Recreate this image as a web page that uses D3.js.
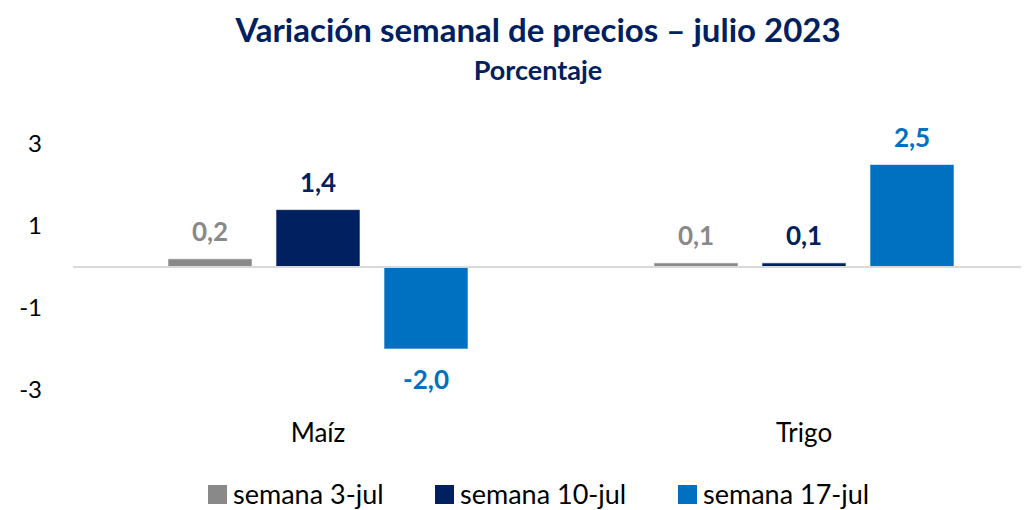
<!DOCTYPE html>
<html>
<head>
<meta charset="utf-8">
<script src="https://cdn.jsdelivr.net/npm/d3@7"></script>
<style>
  body { margin: 0; background: #fff; }
  svg { font-family: "Lato", "Open Sans", sans-serif; }
</style>
</head>
<body>
<svg id="chart" width="1024" height="510"></svg>
<script>
const categories = ["Maíz", "Trigo"];
const seriesNames = ["semana 3-jul", "semana 10-jul", "semana 17-jul"];
const values3jul = [0.2, 0.1];
const values10jul = [1.4, 0.1];
const values17jul = [-2.0, 2.5];
const yTicks = [3, 1, -1, -3];
const colors = ["#898989", "#002060", "#0070C0"];

const allSeries = [values3jul, values10jul, values17jul];
const rows = [];
categories.forEach((c, i) => {
  seriesNames.forEach((s, j) => rows.push({ cat: c, series: s, idx: j, value: allSeries[j][i] }));
});

const svg = d3.select("#chart");

// scales
const x0 = d3.scaleBand().domain(categories).range([75, 1047]).padding(0);
const x1 = d3.scaleBand().domain(seriesNames).range([0, x0.bandwidth()])
  .paddingInner(0.222).paddingOuter(0.861);
const y = d3.scaleLinear().domain([-3, 3]).range([390, 144]);

// hyphen instead of unicode minus, comma decimal
const fmt = v => d3.format(".1f")(v).replace(".", ",").replace("−", "-");

// title
svg.append("text").attr("x", 538).attr("y", 42).attr("text-anchor", "middle")
  .attr("fill", "#002060").attr("font-size", 33).attr("font-weight", "bold")
  .text("Variación semanal de precios – julio 2023");
svg.append("text").attr("x", 538).attr("y", 80).attr("text-anchor", "middle")
  .attr("fill", "#002060").attr("font-size", 27).attr("font-weight", "bold")
  .text("Porcentaje");

// y axis (labels only)
const yAxis = d3.axisLeft(y).tickValues(yTicks).tickSize(0).tickPadding(0)
  .tickFormat(d => String(d));
const gy = svg.append("g").attr("transform", "translate(42,0)").call(yAxis);
gy.select(".domain").remove();
gy.selectAll("text").attr("font-size", 24).attr("fill", "#000")
  .attr("font-family", "Lato, sans-serif");

// bars
svg.append("g").selectAll("rect").data(rows).join("rect")
  .attr("x", d => x0(d.cat) + x1(d.series))
  .attr("width", x1.bandwidth())
  .attr("y", d => y(Math.max(0, d.value)))
  .attr("height", d => Math.abs(y(d.value) - y(0)))
  .attr("fill", d => colors[d.idx])
  .attr("stroke", "#ffffff").attr("stroke-opacity", 0.6).attr("stroke-width", 1);

// zero line
svg.append("line").attr("x1", 73).attr("x2", 1021).attr("y1", y(0)).attr("y2", y(0))
  .attr("stroke", "#d9d9d9").attr("stroke-width", 2);

// value labels
svg.append("g").selectAll("text").data(rows).join("text")
  .attr("x", d => x0(d.cat) + x1(d.series) + x1.bandwidth() / 2)
  .attr("y", d => d.value >= 0 ? y(d.value) - 18 : y(d.value) + 40)
  .attr("text-anchor", "middle")
  .attr("font-size", 26).attr("font-weight", "bold")
  .attr("fill", d => colors[d.idx])
  .text(d => fmt(d.value));

// category labels
const xAxis = d3.axisBottom(x0).tickSize(0).tickPadding(0);
const gx = svg.append("g").attr("transform", "translate(0,442)").call(xAxis);
gx.select(".domain").remove();
gx.selectAll("text").attr("font-size", 26).attr("fill", "#000")
  .attr("font-family", "Lato, sans-serif").attr("dy", 0);

// legend
const legendX = [208, 435, 678];
const leg = svg.append("g").selectAll("g").data(seriesNames).join("g")
  .attr("transform", (d, i) => `translate(${legendX[i]},485)`);
leg.append("rect").attr("width", 19).attr("height", 19).attr("fill", (d, i) => colors[i]);
leg.append("text").attr("x", 25).attr("y", 19).attr("font-size", 27).attr("fill", "#000")
  .text(d => d);
</script>
</body>
</html>
